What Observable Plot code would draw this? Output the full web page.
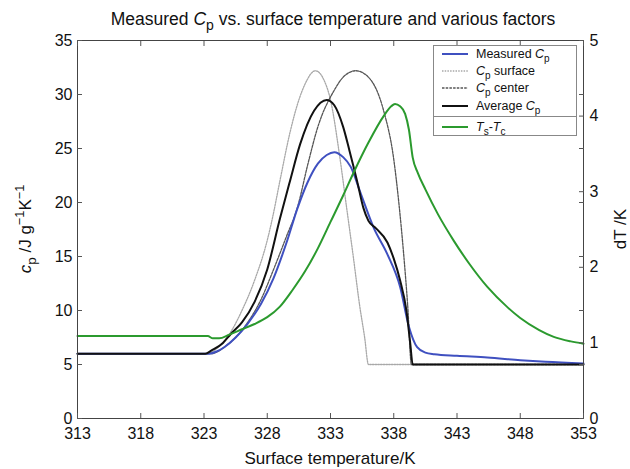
<!DOCTYPE html>
<html><head><meta charset="utf-8">
<script src="https://cdn.jsdelivr.net/npm/d3@7"></script>
<script src="https://cdn.jsdelivr.net/npm/@observablehq/plot@0.6"></script>
<style>
body{margin:0;background:#fff;}
svg{font-family:"Liberation Sans",Arial,Helvetica,sans-serif;}
</style>
</head><body><div id="chart"></div>
<script>
// ---- data ----
const xTicks = [313, 318, 323, 328, 333, 338, 343, 348, 353];
const yTicks = [0, 5, 10, 15, 20, 25, 30, 35];
const dtTicks = [0, 1, 2, 3, 4, 5];

const tMeasured = [313, 323.4, 324, 324.6, 325.5, 326.4, 327.5, 328.5, 329.5, 330.4, 331.2, 332, 332.7, 333.3, 334, 334.6, 335.4, 336.4, 337.5, 338.5, 339.2, 339.85, 340.5, 341.2, 343, 345.4, 348, 350, 353];
const cpMeasured = [6, 6, 6.2, 6.6, 7.5, 8.7, 10.6, 13, 16.2, 19.5, 21.9, 23.6, 24.4, 24.66, 24.2, 23.3, 20.8, 17.7, 15.2, 12.2, 8.5, 6.6, 6.1, 5.95, 5.8, 5.65, 5.4, 5.25, 5.1];

const tSurface = [313, 323, 323.5, 324.3, 325, 326, 327, 328, 328.4, 329, 329.8, 330.5, 331, 331.8, 332.5, 333, 333.7, 334.3, 334.8, 335.3, 335.7, 336, 353];
const cpSurface = [6, 6, 6.1, 6.8, 7.8, 10, 12.8, 16.5, 18.5, 22, 26.5, 29.5, 31, 32.2, 31.3, 29.5, 24.5, 19.3, 15, 10.5, 7.5, 5, 5];

const tCenter = [313, 323.6, 324.1, 324.6, 325.5, 326.4, 327.5, 328.5, 329.5, 330.4, 331.2, 332, 333.3, 334, 335, 336, 337.2, 338, 338.4, 338.8, 339.1, 339.4, 353];
const cpCenter = [6, 6, 6.2, 6.6, 7.5, 8.8, 11, 13.8, 16.8, 19.6, 23.5, 27, 30.4, 31.6, 32.2, 31.6, 28.5, 24, 20, 15, 10.5, 5, 5];

const tAverage = [313, 323.1, 323.6, 324.5, 325.1, 326, 327, 328, 329, 329.8, 330.6, 331.7, 332.7, 333.3, 334, 334.5, 335.1, 335.6, 336, 336.6, 337.5, 338, 338.5, 339, 339.3, 339.5, 353];
const cpAverage = [6, 6, 6.3, 7, 7.8, 8.9, 10.8, 13.8, 18.5, 22, 25.4, 28.5, 29.5, 29, 27, 24.8, 22, 19.5, 18.3, 17.6, 16.3, 14.8, 12.8, 10, 7, 5, 5];

const tDiff = [313, 323.3, 323.7, 324.2, 325, 326, 327, 328, 329, 330, 331, 332, 333, 334, 334.85, 336, 337.2, 337.8, 338.1, 338.5, 338.9, 339.2, 339.5, 339.9, 340.5, 341.5, 342.75, 344, 345.4, 347, 348, 349.5, 350.65, 352, 353];
const dtDiff = [1.09, 1.09, 1.06, 1.06, 1.11, 1.18, 1.25, 1.34, 1.48, 1.7, 1.95, 2.25, 2.6, 2.95, 3.26, 3.65, 4.0, 4.13, 4.16, 4.13, 4.03, 3.82, 3.45, 3.25, 3.03, 2.7, 2.35, 2.04, 1.74, 1.47, 1.33, 1.17, 1.08, 1.02, 0.99];

// right axis (0..5 K) shares the frame with left axis (0..35)
const cpMax = 35, dtMax = 5;
const k = cpMax / dtMax;

const rows = (ts, vs) => ts.map((t, i) => ({t, v: vs[i]}));
const measured = rows(tMeasured, cpMeasured);
const surface = rows(tSurface, cpSurface);
const center = rows(tCenter, cpCenter);
const average = rows(tAverage, cpAverage);
const diff = rows(tDiff, dtDiff);

const cur = "monotone-x";
const chart = Plot.plot({
  width: 630, height: 469,
  marginLeft: 77, marginRight: 47, marginTop: 40, marginBottom: 51,
  x: {domain: [313, 353]},
  y: {domain: [0, cpMax]},
  style: {fontFamily: '"Liberation Sans", Arial, sans-serif', fontSize: "16px", color: "#111", background: "#fff"},
  marks: [
    Plot.lineY(surface, {x: "t", y: "v", stroke: "#a8a8a8", strokeWidth: 1.3, strokeDasharray: "1.5,1.2", curve: cur}),
    Plot.lineY(center, {x: "t", y: "v", stroke: "#555", strokeWidth: 1.3, strokeDasharray: "2.5,1.2", curve: cur}),
    Plot.lineY(measured, {x: "t", y: "v", stroke: "#3f50c0", strokeWidth: 2, curve: cur}),
    Plot.lineY(average, {x: "t", y: "v", stroke: "#111", strokeWidth: 2, curve: cur}),
    Plot.lineY(diff, {x: "t", y: d => d.v * k, stroke: "#2b9a2e", strokeWidth: 2, curve: cur}),
    Plot.frame({stroke: "#444", strokeWidth: 1}),
    // tick labels
    Plot.axisX({ticks: xTicks, tickSize: 0, tickPadding: 9, label: null, tickFormat: d => d}),
    Plot.axisY({ticks: yTicks, tickSize: 0, tickPadding: 5, label: null}),
    Plot.axisY({anchor: "right", ticks: dtTicks.map(d => d * k), tickFormat: d => Math.round(d / k), tickSize: 0, tickPadding: 6, label: null}),
    // inward ticks
    Plot.axisX({ticks: xTicks, tickSize: 5, dy: -5, fill: "none", stroke: "#555", label: null}),
    Plot.axisX({anchor: "top", ticks: xTicks, tickSize: 5, dy: 5, fill: "none", stroke: "#555", label: null}),
    Plot.axisY({ticks: yTicks, tickSize: 5, dx: 5, fill: "none", stroke: "#555", label: null}),
    Plot.axisY({anchor: "right", ticks: yTicks, tickSize: 5, dx: -5, fill: "none", stroke: "#555", label: null}),
    Plot.axisY({anchor: "right", ticks: dtTicks.map(d => d * k), tickSize: 5, dx: -5, fill: "none", stroke: "#555", label: null})
  ]
});
document.getElementById("chart").appendChild(chart);

// ---- titles, axis labels, legend (rich text) ----
const svg = d3.select(chart);
const FF = '"Liberation Sans", Arial, sans-serif';

function rich(sel, parts, size) {
  let shift = 0;
  parts.forEach(([txt, st]) => {
    const ts = sel.append("tspan").text(txt);
    let target = 0;
    if (st === "sub") { target = size * 0.3; ts.attr("font-size", size * 0.8); }
    if (st === "sup") { target = -size * 0.4; ts.attr("font-size", size * 0.75); }
    if (st === "i") ts.attr("font-style", "italic");
    if (target !== shift) { ts.attr("dy", target - shift); shift = target; }
  });
}

const title = svg.append("text").attr("x", 333).attr("y", 25).attr("text-anchor", "middle")
  .attr("font-size", 17.5).attr("font-family", FF).attr("fill", "#111");
rich(title, [["Measured ", ""], ["C", "i"], ["p", "sub"], [" vs. surface temperature and various factors", ""]], 17.5);

svg.append("text").attr("x", 330).attr("y", 464).attr("text-anchor", "middle")
  .attr("font-size", 17).attr("font-family", FF).attr("fill", "#111").text("Surface temperature/K");

const yl = svg.append("text").attr("transform", "translate(31,229) rotate(-90)").attr("text-anchor", "middle")
  .attr("font-size", 17).attr("font-family", FF).attr("fill", "#111");
rich(yl, [["c", "i"], ["p", "sub"], [" /J g", ""], ["\u22121", "sup"], ["K", ""], ["\u22121", "sup"]], 17);

svg.append("text").attr("transform", "translate(626,229) rotate(-90)").attr("text-anchor", "middle")
  .attr("font-size", 17).attr("font-family", FF).attr("fill", "#111").text("dT /K");

// legend
const lg = svg.append("g").attr("font-family", FF).attr("font-size", 12.5).attr("fill", "#111").attr("text-anchor", "start");
lg.append("rect").attr("x", 433.5).attr("y", 45.5).attr("width", 143).attr("height", 71).attr("fill", "#fff").attr("stroke", "#888");
lg.append("rect").attr("x", 433.5).attr("y", 116.5).attr("width", 143).attr("height", 19).attr("fill", "#fff").attr("stroke", "#888");
const entries = [
  {y: 54, stroke: "#3f50c0", w: 2, dash: null, parts: [["Measured ", ""], ["C", "i"], ["p", "sub"]]},
  {y: 71, stroke: "#a8a8a8", w: 1.3, dash: "1.5,1.2", parts: [["C", "i"], ["p", "sub"], [" surface", ""]]},
  {y: 88, stroke: "#555", w: 1.3, dash: "2.5,1.2", parts: [["C", "i"], ["p", "sub"], [" center", ""]]},
  {y: 106, stroke: "#111", w: 2, dash: null, parts: [["Average ", ""], ["C", "i"], ["p", "sub"]]},
  {y: 127, stroke: "#2b9a2e", w: 2, dash: null, parts: [["T", "i"], ["s", "sub"], ["-", ""], ["T", "i"], ["c", "sub"]]}
];
entries.forEach(e => {
  const ln = lg.append("line").attr("x1", 442).attr("x2", 468).attr("y1", e.y).attr("y2", e.y)
    .attr("stroke", e.stroke).attr("stroke-width", e.w);
  if (e.dash) ln.attr("stroke-dasharray", e.dash);
  const t = lg.append("text").attr("x", 476).attr("y", e.y + 4).attr("text-anchor", "start");
  rich(t, e.parts, 12.5);
});
</script>
</body></html>
